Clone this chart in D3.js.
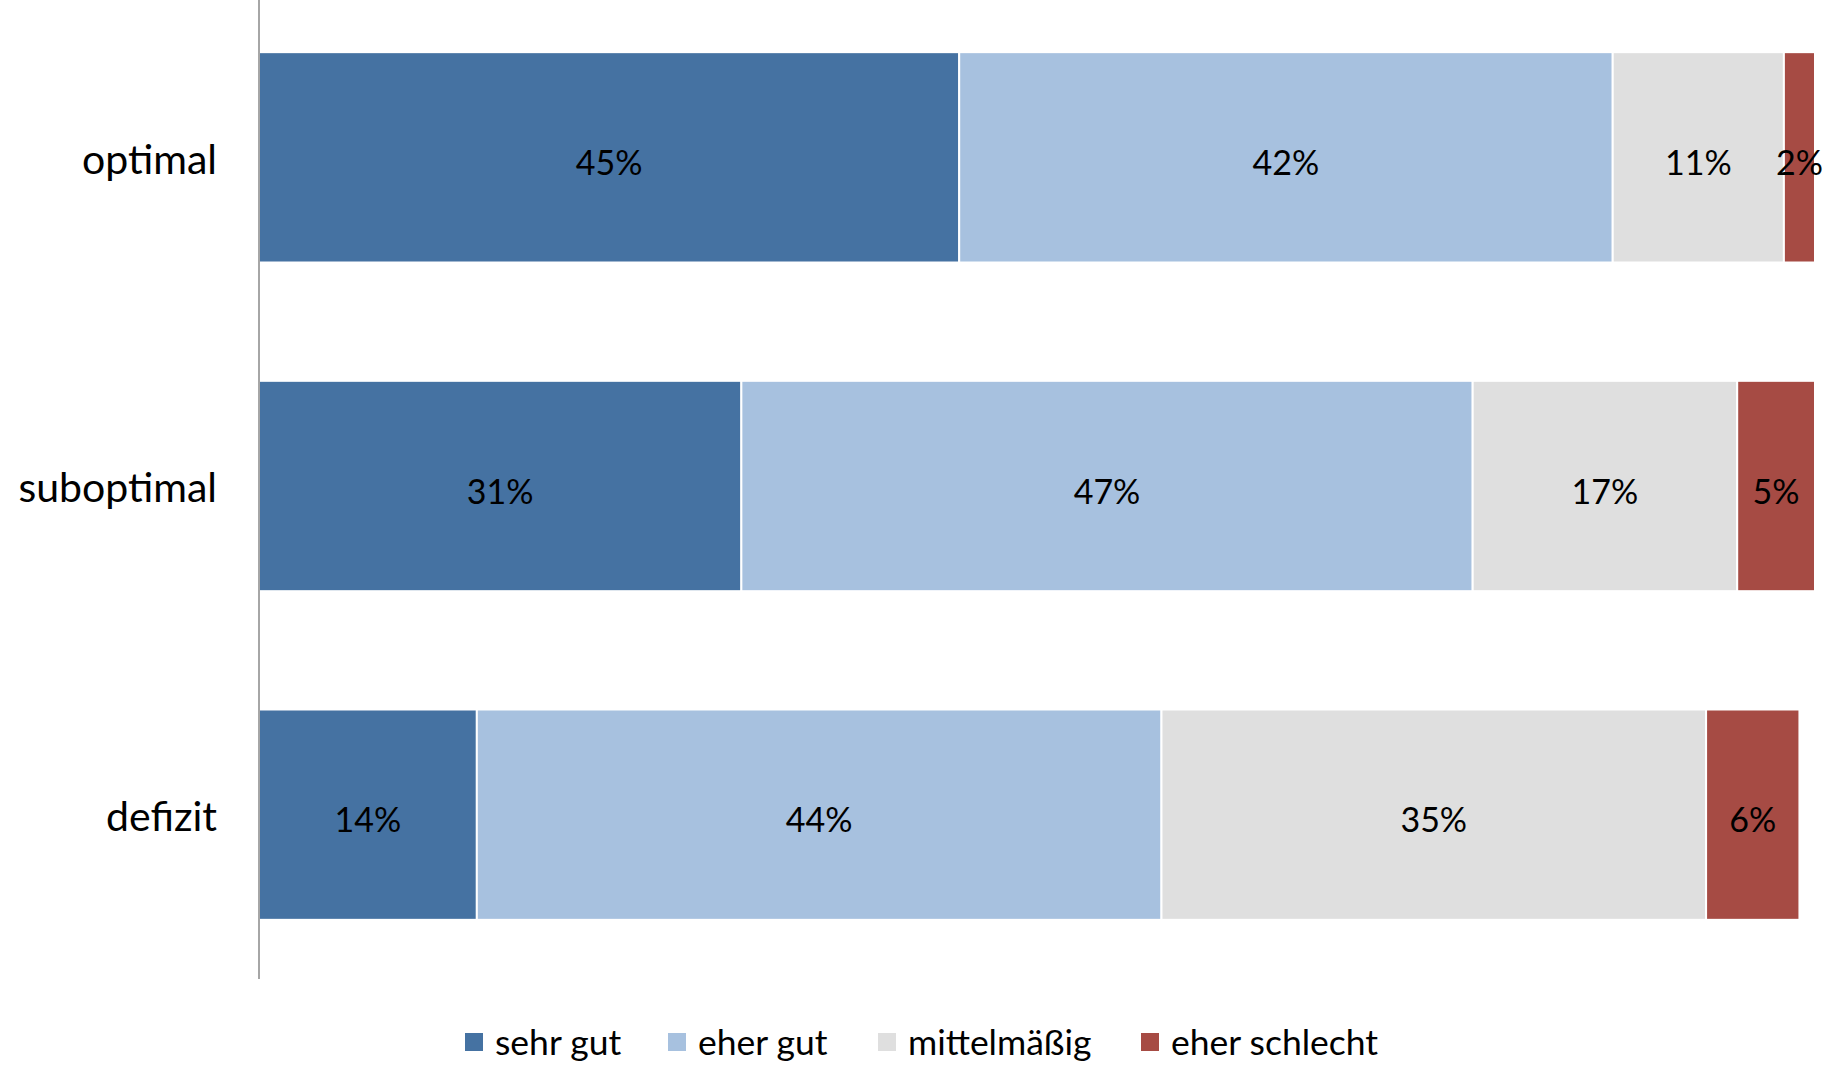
<!DOCTYPE html>
<html>
<head>
<meta charset="utf-8">
<script src="https://cdn.jsdelivr.net/npm/d3@7"></script>
<style>
  html, body { margin: 0; padding: 0; background: #ffffff; }
  svg { display: block; font-family: Lato, "Noto Sans", sans-serif; }
</style>
</head>
<body>
<svg id="chart" width="1847" height="1066"></svg>
<script>
// Rating groups (rows) and answer categories (stacked segments)
const groups = ["optimal", "suboptimal", "defizit"];
const answers = ["sehr gut", "eher gut", "mittelmäßig", "eher schlecht"];

// Share of answers per group, in percent
const sehrGut       = [45, 31, 14];
const eherGut       = [42, 47, 44];
const mittelmaessig = [11, 17, 35];
const eherSchlecht  = [2, 5, 6];

const colors = ["#4572a2", "#a7c1df", "#dfdfdf", "#a64b44"];

const rows = groups.map((g, i) => ({
  group: g,
  "sehr gut": sehrGut[i],
  "eher gut": eherGut[i],
  "mittelmäßig": mittelmaessig[i],
  "eher schlecht": eherSchlecht[i]
}));

const svg = d3.select("#chart");

const x = d3.scaleLinear().domain([0, 100]).range([259, 1815]);
const y = d3.scaleBand().domain(groups).range([-7, 979])
  .paddingInner(0.36).paddingOuter(0.18);
const color = d3.scaleOrdinal().domain(answers).range(colors);

const stacked = d3.stack().keys(answers)(rows);

// Stacked segments
const layers = svg.append("g").selectAll("g")
  .data(stacked)
  .join("g")
  .attr("fill", d => color(d.key));

layers.selectAll("rect")
  .data(d => d.map(p => ({ key: d.key, p })))
  .join("rect")
  .attr("x", d => x(d.p[0]))
  .attr("y", d => y(d.p.data.group))
  .attr("width", d => x(d.p[1]) - x(d.p[0]))
  .attr("height", y.bandwidth())
  .attr("stroke", "#ffffff")
  .attr("stroke-width", 2);

// Value labels centred in each segment
layers.selectAll("text")
  .data(d => d.map(p => ({ key: d.key, p })))
  .join("text")
  .attr("x", d => (x(d.p[0]) + x(d.p[1])) / 2)
  .attr("y", d => y(d.p.data.group) + y.bandwidth() / 2 + 4)
  .attr("text-anchor", "middle")
  .attr("dominant-baseline", "central")
  .attr("fill", "#000000")
  .attr("font-size", 34)
  .text(d => (d.p[1] - d.p[0]) + "%");

// Category axis on the left
const yAxis = d3.axisLeft(y).tickSize(0).tickPadding(42);
const ax = svg.append("g")
  .attr("transform", `translate(${x(0)},0)`)
  .call(yAxis);
ax.select(".domain").remove();
ax.selectAll("text")
  .attr("font-size", 41)
  .attr("font-family", "Lato, 'Noto Sans', sans-serif")
  .attr("fill", "#000000")
  .attr("dy", "0.4em");

svg.append("line")
  .attr("x1", x(0)).attr("x2", x(0))
  .attr("y1", 0).attr("y2", 979)
  .attr("stroke", "#a6a6a6")
  .attr("stroke-width", 2);

// Legend
const legendX = [465, 668, 878, 1141];
const legend = svg.append("g").selectAll("g")
  .data(answers)
  .join("g")
  .attr("transform", (d, i) => `translate(${legendX[i]},1033)`);

legend.append("rect")
  .attr("width", 18).attr("height", 18)
  .attr("fill", d => color(d));

legend.append("text")
  .attr("x", 30)
  .attr("y", 9)
  .attr("dy", "0.36em")
  .attr("font-size", 35.5)
  .attr("fill", "#000000")
  .text(d => d);
</script>
</body>
</html>
